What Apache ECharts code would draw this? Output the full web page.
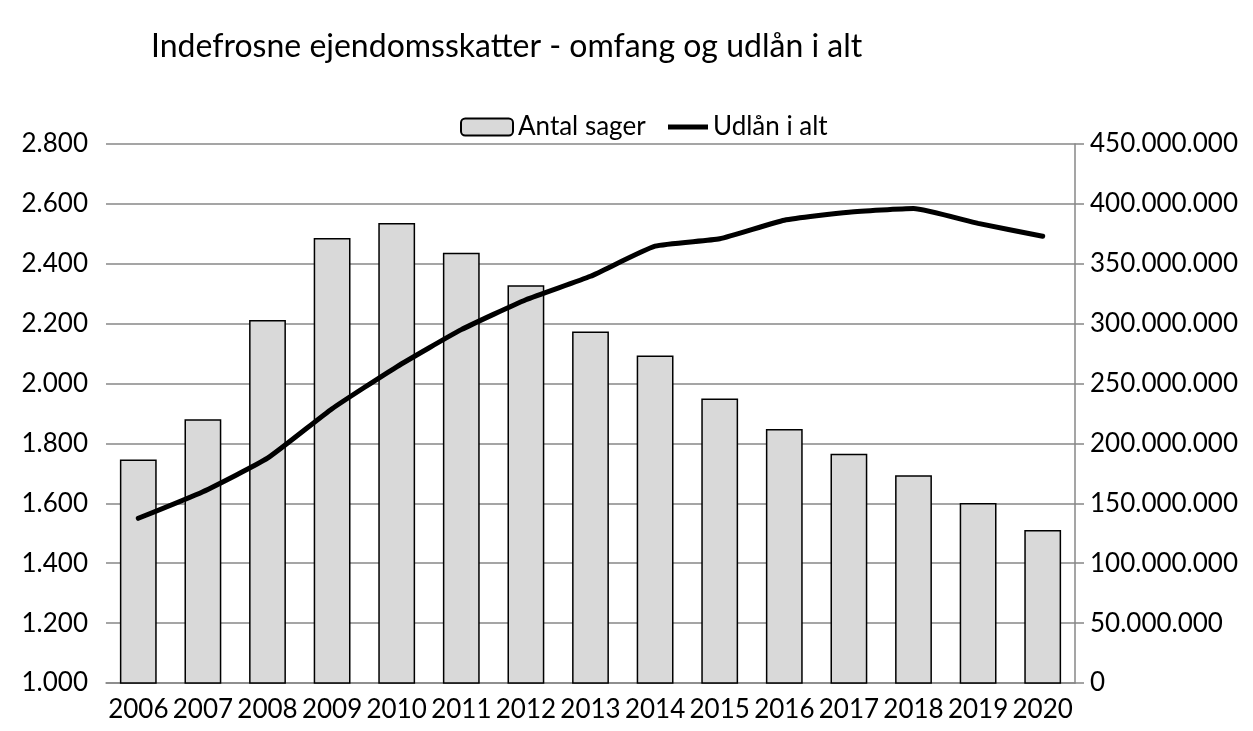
<!DOCTYPE html>
<html>
<head>
<meta charset="utf-8">
<script src="https://cdn.jsdelivr.net/npm/echarts@6/dist/echarts.min.js"></script>
<style>
  html, body { margin: 0; padding: 0; background: #fff; }
  #chart { width: 1253px; height: 731px; }
</style>
</head>
<body>
<div id="chart"></div>
<script>
const years = ['2006', '2007', '2008', '2009', '2010', '2011', '2012', '2013',
  '2014', '2015', '2016', '2017', '2018', '2019', '2020'];
// antal sager (venstre akse)
const antalSager = [1746, 1881, 2212, 2486, 2536, 2437, 2328, 2174,
  2094, 1950, 1848, 1766, 1694, 1601, 1511];
// udlån i alt (højre akse)
const udlaan = [137500000, 159700000, 187700000, 229000000, 264000000, 295000000,
  320000000, 339600000, 364700000, 370900000, 386400000, 393100000, 396200000,
  383700000, 373000000];

// dansk tusindtalsseparator
function dk(v) {
  return String(Math.round(v)).replace(/\B(?=(\d{3})+(?!\d))/g, '.');
}

const font = 'Lato, "Open Sans", sans-serif';
const chart = echarts.init(document.getElementById('chart'));

chart.setOption({
  animation: false,
  textStyle: { fontFamily: font },
  title: {
    text: 'Indefrosne ejendomsskatter - omfang og udlån i alt',
    left: 146,
    top: 26,
    textStyle: { fontFamily: font, fontSize: 32, fontWeight: 'normal', color: '#000' }
  },
  legend: [
    {
      data: ['Antal sager'],
      left: 455,
      top: 109,
      itemWidth: 52,
      itemHeight: 17,
      itemGap: 0,
      textStyle: { fontFamily: font, fontSize: 26, color: '#000' }
    },
    {
      data: [{ name: 'Udlån i alt', icon: 'rect' }],
      left: 663,
      top: 109,
      itemWidth: 40,
      itemHeight: 5,
      textStyle: { fontFamily: font, fontSize: 26, color: '#000' }
    }
  ],
  grid: { left: 106, right: 178, top: 144, bottom: 48, containLabel: false },
  xAxis: {
    type: 'category',
    data: years,
    axisLine: { lineStyle: { color: '#878787', width: 1.5 } },
    axisTick: { show: false },
    axisLabel: { color: '#000', fontSize: 26, margin: 14, interval: 0 }
  },
  yAxis: [
    {
      type: 'value',
      min: 1000,
      max: 2800,
      interval: 200,
      axisLine: { show: false },
      axisTick: { show: false },
      axisLabel: { color: '#000', fontSize: 26, margin: 18, formatter: dk },
      splitLine: { lineStyle: { color: '#878787', width: 1.5 } }
    },
    {
      type: 'value',
      min: 0,
      max: 450000000,
      interval: 50000000,
      position: 'right',
      axisLine: { show: true, lineStyle: { color: '#878787', width: 1.5 } },
      axisTick: { show: true, inside: false, length: 9, lineStyle: { color: '#878787', width: 1.5 } },
      axisLabel: { color: '#000', fontSize: 26, margin: 15, formatter: dk },
      splitLine: { show: false }
    }
  ],
  series: [
    {
      name: 'Antal sager',
      type: 'bar',
      yAxisIndex: 0,
      data: antalSager,
      barWidth: '57%',
      itemStyle: { color: '#d9d9d9', borderColor: '#000', borderWidth: 1.5 }
    },
    {
      name: 'Udlån i alt',
      type: 'line',
      yAxisIndex: 1,
      data: udlaan,
      symbol: 'none',
      smooth: 0.15,
      lineStyle: { color: '#000', width: 5, cap: 'round' },
      itemStyle: { color: '#000' }
    }
  ]
});
</script>
</body>
</html>
